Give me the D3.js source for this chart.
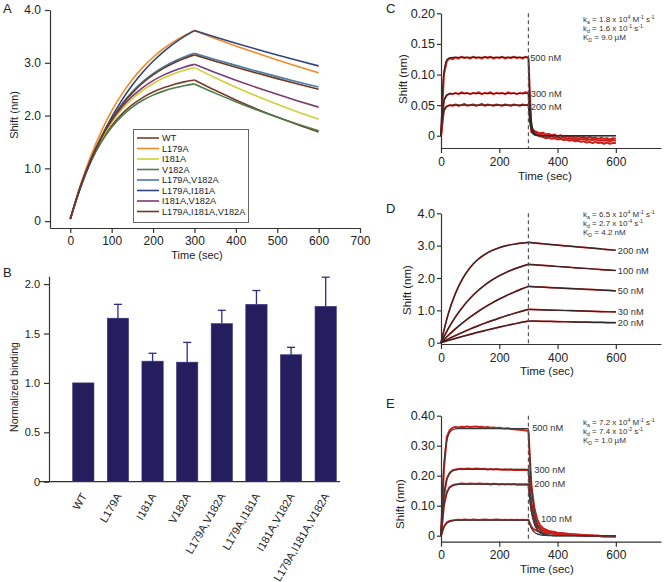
<!DOCTYPE html>
<html><head><meta charset="utf-8">
<script src="https://cdn.jsdelivr.net/npm/d3@7"></script>
<style>
body{margin:0;background:#fff;}
svg{display:block;font-family:"Liberation Sans",Arial,Helvetica,sans-serif;}
</style></head><body>
<svg id="fig" width="664" height="582"></svg>
<script>
// ---------------- DATA ----------------
// Panel A : BLI sensorgrams of mutants (time in sec, shift in nm)
const timeA = [0,25,50,75,100,125,150,175,200,225,250,275,300,350,400,450,500,550,600];
const mutants = ["WT","L179A","I181A","V182A","L179A,V182A","L179A,I181A","I181A,V182A","L179A,I181A,V182A"];
const mutantColors = ["#7a3a2c","#ef8c26","#cfcf36","#4b7c4a","#4a7ea6","#30447f","#7a3a76","#6c3a22"];
const shiftWT      = [0.04,0.662,1.145,1.518,1.808,2.032,2.206,2.341,2.445,2.526,2.589,2.638,2.675,2.478,2.296,2.127,1.971,1.826,1.69];
const shiftL179A   = [0.04,0.693,1.241,1.70,2.088,2.412,2.685,2.913,3.105,3.266,3.401,3.514,3.61,3.462,3.320,3.184,3.053,2.928,2.81];
const shiftI181A   = [0.04,0.66,1.155,1.55,1.866,2.118,2.319,2.480,2.608,2.711,2.793,2.858,2.91,2.717,2.538,2.370,2.213,2.067,1.93];
const shiftV182A   = [0.04,0.658,1.132,1.498,1.779,1.995,2.161,2.289,2.387,2.463,2.521,2.566,2.60,2.425,2.261,2.108,1.966,1.834,1.71];
const shiftL179A_V182A = [0.04,0.666,1.178,1.598,1.942,2.223,2.453,2.642,2.796,2.922,3.026,3.110,3.18,3.063,2.951,2.842,2.738,2.637,2.54];
const shiftL179A_I181A = [0.04,0.636,1.149,1.59,1.97,2.297,2.578,2.82,3.029,3.208,3.363,3.496,3.61,3.489,3.371,3.258,3.148,3.042,2.94];
const shiftI181A_V182A = [0.04,0.673,1.178,1.582,1.904,2.161,2.367,2.531,2.662,2.766,2.850,2.917,2.97,2.816,2.671,2.533,2.402,2.278,2.16];
const shiftTriple  = [0.04,0.660,1.168,1.583,1.923,2.202,2.430,2.617,2.770,2.895,2.997,3.081,3.15,3.031,2.917,2.806,2.700,2.598,2.50];
const shiftA = [shiftWT,shiftL179A,shiftI181A,shiftV182A,shiftL179A_V182A,shiftL179A_I181A,shiftI181A_V182A,shiftTriple];
const ticksAx = [0,100,200,300,400,500,600,700];
const ticksAy = [0,1,2,3,4];

// Panel B : normalized binding
const bindingMean = [1.00,1.655,1.22,1.21,1.60,1.795,1.285,1.775];
const bindingErr  = [0,0.14,0.08,0.20,0.135,0.14,0.075,0.295];
const ticksBy = [0,0.5,1,1.5,2];

// Panel C
const timeCfit = [0,4,8,12,16,20,25,30,40,60,100,150,200,250,300,304,308,312,316,320,330,340,360,400,450,500,550,600];
const c500fit = [0,0.063,0.095,0.111,0.119,0.124,0.126,0.127,0.128,0.128,0.128,0.128,0.128,0.128,0.128,0.0675,0.0356,0.0188,0.0099,0.0052,0.0009,0.0001,0,0,0,0,0,0];
const c300fit = [0,0.0334,0.0507,0.0595,0.0641,0.0665,0.0679,0.0685,0.069,0.069,0.069,0.069,0.069,0.069,0.069,0.0364,0.0192,0.0101,0.0053,0.0028,0.0005,0,0,0,0,0,0,0];
const c200fit = [0,0.024,0.0365,0.043,0.0464,0.0481,0.0491,0.0496,0.050,0.050,0.050,0.050,0.050,0.050,0.050,0.0264,0.0139,0.0073,0.0039,0.002,0.0003,0,0,0,0,0,0,0];
const timeObs = d3.range(0,601,10);
const c500obs = [0,0.100,0.122,0.127,0.125,0.128,0.126,0.129,0.127,0.128,
 0.126,0.129,0.127,0.128,0.126,0.129,0.127,0.129,0.126,0.128,
 0.127,0.129,0.126,0.128,0.127,0.129,0.127,0.128,0.126,0.129,
 0.127,0.012,0.008,0.006,0.004,0.005,0.002,0.003,0.001,0.002,
 -0.001,0.001,-0.002,0.000,-0.002,-0.001,-0.003,-0.001,-0.003,-0.002,
 -0.004,-0.002,-0.004,-0.003,-0.005,-0.003,-0.005,-0.004,-0.006,-0.004,-0.005];
const c300obs = [0,0.058,0.066,0.069,0.068,0.070,0.068,0.071,0.069,0.070,
 0.068,0.070,0.069,0.071,0.068,0.070,0.069,0.071,0.068,0.070,
 0.069,0.070,0.068,0.071,0.069,0.070,0.068,0.070,0.069,0.071,
 0.070,0.006,0.002,0.001,-0.001,-0.002,-0.004,-0.003,-0.005,-0.004,
 -0.006,-0.005,-0.007,-0.006,-0.008,-0.007,-0.009,-0.008,-0.010,-0.009,
 -0.011,-0.010,-0.012,-0.010,-0.012,-0.011,-0.013,-0.011,-0.013,-0.012,-0.012];
const c200obs = [0,0.042,0.048,0.050,0.049,0.051,0.049,0.050,0.052,0.049,
 0.050,0.051,0.049,0.050,0.052,0.049,0.051,0.050,0.049,0.051,
 0.050,0.049,0.051,0.050,0.049,0.051,0.050,0.049,0.051,0.050,
 0.051,0.009,0.005,0.004,0.002,0.001,0.000,-0.002,-0.001,-0.003,
 -0.002,-0.004,-0.003,-0.004,-0.005,-0.004,-0.006,-0.005,-0.006,-0.005,
 -0.007,-0.006,-0.007,-0.006,-0.008,-0.007,-0.008,-0.007,-0.009,-0.007,-0.008];
const concC = ["500 nM","300 nM","200 nM"];

// Panel D
const timeD = [0,25,50,75,100,125,150,175,200,225,250,275,300,350,400,450,500,550,600];
const d200 = [0,0.893,1.534,1.993,2.323,2.559,2.729,2.850,2.937,2.999,3.044,3.077,3.10,3.058,3.017,2.977,2.937,2.897,2.858];
const d100 = [0,0.435,0.802,1.111,1.373,1.593,1.779,1.936,2.068,2.180,2.274,2.353,2.42,2.388,2.356,2.324,2.293,2.262,2.232];
const d50  = [0,0.225,0.431,0.619,0.792,0.950,1.094,1.227,1.348,1.460,1.561,1.655,1.74,1.717,1.694,1.671,1.649,1.627,1.605];
const d30  = [0,0.114,0.223,0.325,0.422,0.513,0.600,0.682,0.759,0.833,0.902,0.968,1.03,1.016,1.003,0.989,0.976,0.963,0.950];
const d20  = [0,0.069,0.135,0.198,0.259,0.318,0.374,0.429,0.481,0.531,0.579,0.626,0.67,0.661,0.652,0.643,0.635,0.626,0.618];
const concD = ["200 nM","100 nM","50 nM","30 nM","20 nM"];

// Panel E
const timeEfit = [0,5,10,15,20,25,30,40,50,60,100,150,200,250,300,305,310,315,320,330,340,350,360,380,400,450,500,550,600];
const e500fit = [0,0.151,0.238,0.288,0.317,0.334,0.344,0.353,0.356,0.357,0.357,0.357,0.357,0.357,0.357,0.247,0.170,0.118,0.081,0.039,0.019,0.009,0.004,0.001,0,0,0,0,0];
const e300fit = [0,0.084,0.136,0.168,0.188,0.201,0.208,0.216,0.219,0.221,0.221,0.221,0.221,0.221,0.221,0.153,0.105,0.073,0.050,0.024,0.011,0.005,0.003,0.001,0,0,0,0,0];
const e200fit = [0,0.061,0.101,0.126,0.143,0.153,0.160,0.167,0.170,0.171,0.172,0.172,0.172,0.172,0.172,0.119,0.082,0.057,0.039,0.019,0.009,0.004,0.002,0.0005,0,0,0,0,0];
const e100fit = [0,0.017,0.029,0.037,0.042,0.045,0.047,0.050,0.051,0.052,0.052,0.052,0.052,0.052,0.052,0.036,0.025,0.017,0.012,0.006,0.003,0.001,0.0006,0,0,0,0,0,0];
const e500obs = [0,0.22,0.33,0.352,0.360,0.362,0.361,0.363,0.362,0.364,
 0.362,0.363,0.364,0.362,0.363,0.361,0.362,0.360,0.361,0.359,
 0.360,0.358,0.357,0.358,0.356,0.355,0.354,0.353,0.352,0.351,
 0.350,0.17,0.095,0.055,0.035,0.025,0.020,0.016,0.014,0.012,
 0.010,0.009,0.008,0.007,0.005,0.005,0.004,0.003,0.003,0.002,
 0.001,0.001,0.000,0.000,-0.001,-0.001,-0.002,-0.001,-0.002,-0.002,-0.003];
const e300obs = [0,0.13,0.19,0.210,0.218,0.221,0.222,0.223,0.222,0.224,
 0.223,0.222,0.224,0.223,0.222,0.223,0.221,0.222,0.221,0.222,
 0.221,0.220,0.221,0.220,0.221,0.219,0.220,0.219,0.220,0.219,
 0.219,0.11,0.06,0.038,0.026,0.020,0.016,0.013,0.011,0.010,
 0.008,0.007,0.006,0.006,0.004,0.004,0.003,0.003,0.002,0.002,
 0.001,0.000,0.001,-0.001,0.000,-0.002,-0.001,-0.002,-0.002,-0.003,-0.002];
const e200obs = [0,0.10,0.145,0.162,0.168,0.171,0.172,0.174,0.173,0.172,
 0.174,0.173,0.172,0.174,0.173,0.172,0.173,0.171,0.173,0.172,
 0.171,0.172,0.171,0.172,0.171,0.172,0.170,0.171,0.170,0.171,
 0.170,0.085,0.048,0.030,0.022,0.017,0.014,0.011,0.010,0.008,
 0.007,0.006,0.005,0.005,0.004,0.003,0.003,0.002,0.002,0.001,
 0.001,0.000,0.000,-0.001,0.000,-0.001,-0.002,-0.001,-0.002,-0.001,-0.002];
const e100obs = [0,0.030,0.044,0.049,0.051,0.052,0.053,0.052,0.054,0.053,
 0.052,0.054,0.053,0.052,0.053,0.054,0.053,0.052,0.053,0.054,
 0.053,0.052,0.053,0.052,0.053,0.052,0.053,0.052,0.053,0.052,
 0.053,0.030,0.020,0.016,0.013,0.011,0.009,0.008,0.007,0.006,
 0.005,0.004,0.004,0.003,0.003,0.002,0.002,0.001,0.001,0.000,
 0.001,0.000,-0.001,0.000,-0.001,-0.002,-0.001,-0.002,-0.001,-0.002,-0.002];
const concE = ["500 nM","300 nM","200 nM","100 nM"];
const ticksTime = [0,200,400,600];

// kinetic constants: [ka mantissa, ka exp, kd mantissa, kd exp, KD text]
const kinC = ["1.8","4","1.6","-1","9.0 µM"];
const kinD = ["6.5","4","2.7","-4","4.2 nM"];
const kinE = ["7.2","4","7.4","-2","1.0 µM"];

// ---------------- DRAWING ----------------
const svg = d3.select("#fig");
const AX = "#333", TXT = "#222", RED = "#cc1f1a";
const fmt1 = d => d === 0 ? "0" : d3.format(".1f")(d);
const fmt2 = d => d === 0 ? "0" : d3.format(".2f")(d);

function styleAxis(g, fs){
  g.attr("font-family", null).attr("font-size", fs);
  g.selectAll("path.domain").attr("stroke", AX).attr("stroke-width", 1.2);
  g.selectAll(".tick line").attr("stroke", AX).attr("stroke-width", 1.2);
  g.selectAll(".tick text").attr("fill", TXT);
}
function letter(x, y, s){
  svg.append("text").attr("x", x).attr("y", y).attr("font-size", 13).attr("fill", TXT).text(s);
}
function yTitle(x, y, s, fs){
  svg.append("text").attr("transform", `translate(${x},${y}) rotate(-90)`)
    .attr("text-anchor", "middle").attr("font-size", fs).attr("fill", TXT).text(s);
}
function xTitle(x, y, s, fs){
  svg.append("text").attr("x", x).attr("y", y).attr("text-anchor", "middle")
    .attr("font-size", fs).attr("fill", TXT).text(s);
}

// ===== Panel A =====
const xA = d3.scaleLinear().domain([-49, 700]).range([50, 360]);
const yA = d3.scaleLinear().domain([-0.13, 4]).range([228, 10]);
styleAxis(svg.append("g").attr("transform", "translate(0,228)")
  .call(d3.axisBottom(xA).tickValues(ticksAx).tickSize(5).tickSizeOuter(0).tickPadding(3)), 12);
styleAxis(svg.append("g").attr("transform", "translate(50,0)")
  .call(d3.axisLeft(yA).tickValues(ticksAy).tickFormat(fmt1).tickSize(5).tickSizeOuter(0).tickPadding(4)), 12);
letter(3, 13, "A");
yTitle(18, 115, "Shift (nm)", 11);
xTitle(197, 259, "Time (sec)", 11);

const lineA = d3.line().x(d => xA(d[0])).y(d => yA(d[1])).curve(d3.curveMonotoneX);
shiftA.forEach((s, i) => {
  const pts = timeA.map((t, j) => [t, s[j]]);
  const assoc = pts.filter(p => p[0] <= 300), diss = pts.filter(p => p[0] >= 300);
  [assoc, diss].forEach(seg => svg.append("path").attr("d", lineA(seg)).attr("fill", "none")
    .attr("stroke", mutantColors[i]).attr("stroke-width", 1.6));
});
// legend
const lg = svg.append("g");
lg.append("rect").attr("x", 133.5).attr("y", 129.5).attr("width", 115).attr("height", 93)
  .attr("fill", "#fff").attr("stroke", "#666").attr("stroke-width", 1);
mutants.forEach((m, i) => {
  const yy = 138 + i * 10.5;
  lg.append("line").attr("x1", 137).attr("x2", 159).attr("y1", yy).attr("y2", yy)
    .attr("stroke", mutantColors[i]).attr("stroke-width", 1.6);
  lg.append("text").attr("x", 162).attr("y", yy).attr("dy", "0.35em").attr("font-size", 9.2)
    .attr("fill", TXT).text(m);
});

// ===== Panel B =====
const xB = d3.scaleBand().domain(mutants).range([66, 343]).paddingInner(0.385).paddingOuter(0.1925);
const yB = d3.scaleLinear().domain([0, 2.08]).range([481.7, 276.2]);
svg.append("line").attr("x1", 39).attr("x2", 340).attr("y1", yB(0)).attr("y2", yB(0))
  .attr("stroke", AX).attr("stroke-width", 1.2);
styleAxis(svg.append("g").attr("transform", "translate(49,0)")
  .call(d3.axisLeft(yB).tickValues(ticksBy).tickFormat(fmt1).tickSize(5).tickSizeOuter(0).tickPadding(4)), 11);
letter(3, 277, "B");
yTitle(18, 387, "Normalized binding", 10.5);
mutants.forEach((m, i) => {
  const v = bindingMean[i], e = bindingErr[i];
  const cx = xB(m) + xB.bandwidth() / 2;
  svg.append("rect").attr("x", xB(m)).attr("y", yB(v)).attr("width", xB.bandwidth())
    .attr("height", yB(0) - yB(v)).attr("fill", "#241e5f").attr("stroke", "#3a3577").attr("stroke-width", 0.6);
  if (e > 0) {
    svg.append("line").attr("x1", cx).attr("x2", cx).attr("y1", yB(v)).attr("y2", yB(v + e))
      .attr("stroke", "#2c2c86").attr("stroke-width", 1.3);
    svg.append("line").attr("x1", cx - 4).attr("x2", cx + 4).attr("y1", yB(v + e)).attr("y2", yB(v + e))
      .attr("stroke", "#2c2c86").attr("stroke-width", 1.3);
  }
  svg.append("text").attr("transform", `translate(${cx + 4},496) rotate(-60)`)
    .attr("text-anchor", "end").attr("font-size", 11).attr("fill", TXT).text(m);
});

// ===== helpers for C/D/E =====
function kinetic(x0, y0, k){
  const lines = [
    [["k",0],["a",-1],[" = "+k[0]+" x 10",0],[k[1],1],[" M",0],["-1",1],[" s",0],["-1",1]],
    [["k",0],["d",-1],[" = "+k[2]+" x 10",0],[k[3],1],[" s",0],["-1",1]],
    [["K",0],["D",-1],[" = "+k[4],0]]
  ];
  lines.forEach((parts, li) => {
    const t = svg.append("text").attr("x", x0).attr("y", y0 + li * 9.2).attr("font-size", 8).attr("fill", "#333");
    let cur = 0;
    parts.forEach(([s, mode]) => {
      const target = mode === -1 ? 2 : mode === 1 ? -3 : 0;
      t.append("tspan").attr("dy", target - cur).attr("font-size", mode === 0 ? 8 : 5.2).text(s);
      cur = target;
    });
  });
}
function sensorAxes(x, y, yTicks, yFmt, top, bottom){
  styleAxis(svg.append("g").attr("transform", `translate(0,${bottom})`)
    .call(d3.axisBottom(x).tickValues(ticksTime).tickSize(5).tickSizeOuter(0).tickPadding(4)), 12);
  styleAxis(svg.append("g").attr("transform", `translate(${x(0)},0)`)
    .call(d3.axisLeft(y).tickValues(yTicks).tickFormat(yFmt).tickSize(4).tickSizeOuter(0).tickPadding(2)), 12.5);
  svg.append("line").attr("x1", x(300)).attr("x2", x(300)).attr("y1", top).attr("y2", bottom)
    .attr("stroke", "#555").attr("stroke-width", 1.2).attr("stroke-dasharray", "4,3");
}

// ===== Panel C =====
const xC = d3.scaleLinear().domain([0, 755]).range([441, 661]);
const yC = d3.scaleLinear().domain([-0.02, 0.20]).range([148, 13.3]);
const lineC = d3.line().x(d => xC(d[0])).y(d => yC(d[1]));
[c500obs, c300obs, c200obs].forEach(s => svg.append("path")
  .attr("d", lineC(timeObs.map((t, j) => [t, s[j]]))).attr("fill", "none")
  .attr("stroke", RED).attr("stroke-width", 2).attr("stroke-linejoin", "round"));
[c500fit, c300fit, c200fit].forEach(s => svg.append("path")
  .attr("d", lineC.curve(d3.curveMonotoneX)(timeCfit.map((t, j) => [t, s[j]]))).attr("fill", "none")
  .attr("stroke", "#2a2a2a").attr("stroke-width", 1.2));
sensorAxes(xC, yC, [0, 0.05, 0.10, 0.15, 0.20], fmt2, yC(0.20), 148);
letter(386, 13, "C");
yTitle(407, 79, "Shift (nm)", 11.5);
xTitle(545, 180, "Time (sec)", 11.5);
[[306, 0.128], [308, 0.068], [308, 0.047]].forEach((p, i) =>
  svg.append("text").attr("x", xC(p[0])).attr("y", yC(p[1])).attr("dy", "0.35em")
    .attr("font-size", 9.3).attr("fill", "#333").text(concC[i]));
kinetic(583, 22, kinC);

// ===== Panel D =====
const xD = d3.scaleLinear().domain([0, 755]).range([441, 661]);
const yD = d3.scaleLinear().domain([-0.04, 4.0]).range([344, 213.3]);
const lineD = d3.line().x(d => xD(d[0])).y(d => yD(d[1])).curve(d3.curveMonotoneX);
const setD = [d200, d100, d50, d30, d20];
setD.forEach(s => {
  const pts = timeD.map((t, j) => [t, s[j]]);
  [pts.filter(p => p[0] <= 300), pts.filter(p => p[0] >= 300)].forEach(seg =>
    svg.append("path").attr("d", lineD(seg)).attr("fill", "none").attr("stroke", RED).attr("stroke-width", 1.7));
});
setD.forEach(s => {
  const pts = timeD.map((t, j) => [t, s[j]]);
  [pts.filter(p => p[0] <= 300), pts.filter(p => p[0] >= 300)].forEach(seg =>
    svg.append("path").attr("d", lineD(seg)).attr("fill", "none").attr("stroke", "#2a2a2a").attr("stroke-width", 1.2));
});
sensorAxes(xD, yD, [0, 1, 2, 3, 4], fmt1, yD(4), 344);
letter(386, 213, "D");
yTitle(411, 290, "Shift (nm)", 11.5);
xTitle(547, 375, "Time (sec)", 11.5);
setD.forEach((s, i) => svg.append("text").attr("x", xD(600) + 2).attr("y", yD(s[s.length - 1]))
  .attr("dy", "0.35em").attr("font-size", 9.3).attr("fill", "#333").text(concD[i]));
kinetic(583, 217, kinD);

// ===== Panel E =====
const xE = d3.scaleLinear().domain([0, 755]).range([441, 661]);
const yE = d3.scaleLinear().domain([-0.02, 0.40]).range([541.7, 415.7]);
const lineE = d3.line().x(d => xE(d[0])).y(d => yE(d[1]));
[e500obs, e300obs, e200obs, e100obs].forEach(s => svg.append("path")
  .attr("d", lineE(timeObs.map((t, j) => [t, s[j]]))).attr("fill", "none")
  .attr("stroke", RED).attr("stroke-width", 2).attr("stroke-linejoin", "round"));
[e500fit, e300fit, e200fit, e100fit].forEach(s => svg.append("path")
  .attr("d", lineE.curve(d3.curveMonotoneX)(timeEfit.map((t, j) => [t, s[j]]))).attr("fill", "none")
  .attr("stroke", "#3a3a3a").attr("stroke-width", 1.2));
sensorAxes(xE, yE, [0, 0.10, 0.20, 0.30, 0.40], fmt2, yE(0.40), 541.7);
letter(386, 408, "E");
yTitle(404, 504, "Shift (nm)", 11.5);
xTitle(547, 573, "Time (sec)", 11.5);
[[313, 0.36], [320, 0.219], [320, 0.172], [343, 0.056]].forEach((p, i) =>
  svg.append("text").attr("x", xE(p[0])).attr("y", yE(p[1])).attr("dy", "0.35em")
    .attr("font-size", 9.3).attr("fill", "#333").text(concE[i]));
kinetic(583, 425, kinE);
</script>
</body></html>
